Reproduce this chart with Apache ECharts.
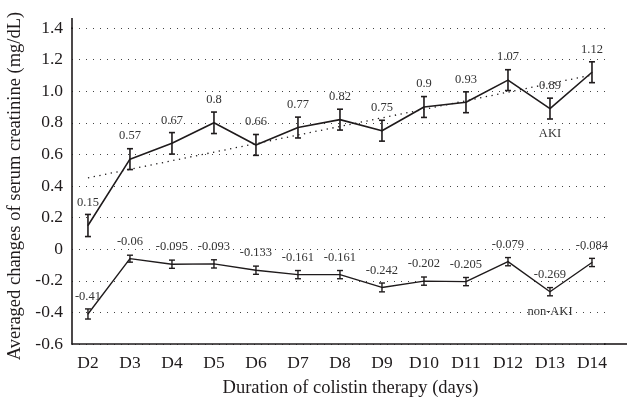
<!DOCTYPE html>
<html>
<head>
<meta charset="utf-8">
<script src="https://cdn.jsdelivr.net/npm/echarts@6/dist/echarts.min.js"></script>
<style>
  html, body { margin: 0; padding: 0; background: #fff; }
  #chart { width: 627px; height: 400px; }
</style>
</head>
<body>
<div id="chart"></div>
<script>
// Treatment days
const days = ['D2', 'D3', 'D4', 'D5', 'D6', 'D7', 'D8', 'D9', 'D10', 'D11', 'D12', 'D13', 'D14'];

// Mean change of serum creatinine (mg/dL), AKI group
const akiMean = [0.15, 0.57, 0.67, 0.8, 0.66, 0.77, 0.82, 0.75, 0.9, 0.93, 1.07, 0.89, 1.12];
const akiErr  = [0.07, 0.066, 0.068, 0.068, 0.066, 0.066, 0.066, 0.066, 0.066, 0.066, 0.066, 0.066, 0.066];

// Mean change of serum creatinine (mg/dL), non-AKI group
const nonAkiMean = [-0.41, -0.06, -0.095, -0.093, -0.133, -0.161, -0.161, -0.242, -0.202, -0.205, -0.079, -0.269, -0.084];
const nonAkiErr  = [0.032, 0.022, 0.026, 0.026, 0.026, 0.026, 0.026, 0.028, 0.026, 0.026, 0.026, 0.026, 0.026];

// Y axis ticks
const yTicks = [-0.6, -0.4, -0.2, 0, 0.2, 0.4, 0.6, 0.8, 1.0, 1.2, 1.4];

// Group name tags placed under the D13 point
const tagIndex = 11;

const FONT = '"Liberation Serif", "DejaVu Serif", serif';
const INK = '#1f1b1c';
const LABEL_INK = '#333333';

// Least-squares linear trend of the AKI means
function linearTrend(ys) {
  const n = ys.length;
  const mx = (n - 1) / 2;
  const my = ys.reduce((a, b) => a + b, 0) / n;
  let sxy = 0, sxx = 0;
  ys.forEach((y, i) => { sxy += (i - mx) * (y - my); sxx += (i - mx) * (i - mx); });
  const k = sxy / sxx;
  return [[0, my - k * mx], [n - 1, my + k * (n - 1 - mx)]];
}

function errorBarSeries(means, errs, width) {
  return {
    type: 'custom',
    silent: true,
    z: 4,
    data: means.map((v, i) => [i, v, errs[i]]),
    renderItem: function (params, api) {
      const x = api.value(0), v = api.value(1), e = api.value(2);
      const top = api.coord([x, v + e]);
      const bot = api.coord([x, v - e]);
      const hw = 3;
      const style = { stroke: INK, lineWidth: width };
      return {
        type: 'group',
        children: [
          { type: 'line', shape: { x1: top[0], y1: top[1], x2: bot[0], y2: bot[1] }, style: style },
          { type: 'line', shape: { x1: top[0] - hw, y1: top[1], x2: top[0] + hw, y2: top[1] }, style: style },
          { type: 'line', shape: { x1: bot[0] - hw, y1: bot[1], x2: bot[0] + hw, y2: bot[1] }, style: style }
        ]
      };
    }
  };
}

function valueLabel(distance) {
  return {
    show: true,
    position: 'top',
    distance: distance,
    formatter: p => String(p.value[1]),
    color: LABEL_INK,
    fontFamily: FONT,
    fontSize: 12.5
  };
}

function nameTag(index, means, text, distance) {
  return {
    symbol: 'circle',
    symbolSize: 0,
    silent: true,
    data: [{ coord: [index, means[index]], value: text }],
    label: {
      show: true,
      position: 'bottom',
      distance: distance,
      formatter: text,
      color: LABEL_INK,
      fontFamily: FONT,
      fontSize: 12.5
    }
  };
}

const chart = echarts.init(document.getElementById('chart'), null, { renderer: 'canvas' });

const gridLeft = 72, gridTop = 28, gridRight = 22, gridBottom = 56;

chart.setOption({
  animation: false,
  backgroundColor: '#fff',
  textStyle: { fontFamily: FONT },
  grid: {
    left: gridLeft, top: gridTop, right: gridRight, bottom: gridBottom,
    containLabel: false,
    outerBoundsMode: 'none'
  },
  xAxis: {
    type: 'value',
    min: -0.38,
    max: 12.31,
    axisLine: { show: true, onZero: false, lineStyle: { color: INK, width: 1.6 } },
    axisTick: { show: false },
    splitLine: { show: false },
    axisLabel: {
      customValues: days.map((d, i) => i),
      formatter: v => days[Math.round(v)],
      color: INK,
      fontFamily: FONT,
      fontSize: 17.5,
      margin: 10
    },
    name: 'Duration of colistin therapy (days)',
    nameLocation: 'middle',
    nameGap: 35,
    nameTextStyle: { color: INK, fontFamily: FONT, fontSize: 18.5, padding: [0, 0, 0, 24] }
  },
  yAxis: {
    type: 'value',
    min: -0.6,
    max: 1.4,
    interval: 0.2,
    axisLine: { show: true, onZero: false, lineStyle: { color: INK, width: 1.6 } },
    axisTick: { show: false },
    splitLine: { show: true, lineStyle: { color: '#444', width: 1, type: [1, 6] } },
    axisLabel: {
      customValues: yTicks,
      formatter: v => (Math.abs(v) < 1e-9 ? '0' : v.toFixed(1)),
      color: INK,
      fontFamily: FONT,
      fontSize: 17.5,
      margin: 9
    },
    name: 'Averaged changes of serum creatinine (mg/dL)',
    nameLocation: 'middle',
    nameGap: 43,
    nameTextStyle: { color: INK, fontFamily: FONT, fontSize: 18.5 }
  },
  graphic: [
    // axis lines run a little past the plotting area
    { type: 'line', shape: { x1: 627 - gridRight - 1, y1: 400 - gridBottom, x2: 627, y2: 400 - gridBottom },
      style: { stroke: INK, lineWidth: 1.6 }, z: 10 },
    { type: 'line', shape: { x1: gridLeft, y1: 18, x2: gridLeft, y2: gridTop + 1 },
      style: { stroke: INK, lineWidth: 1.6 }, z: 10 }
  ],
  series: [
    {
      name: 'AKI trend',
      type: 'line',
      data: linearTrend(akiMean),
      symbol: 'none',
      silent: true,
      z: 2,
      lineStyle: { color: INK, width: 1.3, type: [1.3, 4.5] }
    },
    {
      name: 'AKI',
      type: 'line',
      data: akiMean.map((v, i) => [i, v]),
      symbol: 'circle',
      symbolSize: 1,
      showSymbol: true,
      itemStyle: { color: INK },
      z: 3,
      lineStyle: { color: INK, width: 1.6 },
      label: valueLabel(16),
      markPoint: nameTag(tagIndex, akiMean, 'AKI', 19)
    },
    {
      name: 'non-AKI',
      type: 'line',
      data: nonAkiMean.map((v, i) => [i, v]),
      symbol: 'circle',
      symbolSize: 1,
      showSymbol: true,
      itemStyle: { color: INK },
      z: 3,
      lineStyle: { color: INK, width: 1.4 },
      label: valueLabel(10),
      markPoint: nameTag(tagIndex, nonAkiMean, 'non-AKI', 14)
    },
    errorBarSeries(akiMean, akiErr, 1.6),
    errorBarSeries(nonAkiMean, nonAkiErr, 1.4)
  ]
});
</script>
</body>
</html>
